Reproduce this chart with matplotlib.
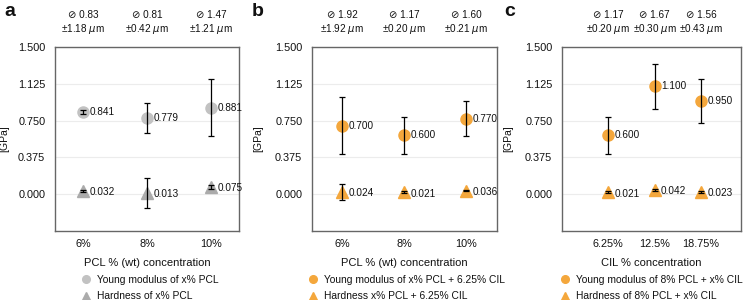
import matplotlib
matplotlib.use("Agg")
import matplotlib.pyplot as plt
from matplotlib.lines import Line2D
from matplotlib.transforms import blended_transform_factory

plt.rcParams['font.family'] = ['Liberation Sans', 'DejaVu Sans']

# ---------------- data ----------------
cats_a = ["6%", "8%", "10%"]
young_a = [0.841, 0.779, 0.881]
young_a_err = [0.02, 0.155, 0.29]
hard_a = [0.032, 0.013, 0.075]
hard_a_err = [0.008, 0.15, 0.02]
diam_a = ["0.83", "0.81", "1.47"]
diam_a_sd = ["±1.18", "±0.42", "±1.21"]

cats_b = ["6%", "8%", "10%"]
young_b = [0.700, 0.600, 0.770]
young_b_err = [0.29, 0.19, 0.175]
hard_b = [0.024, 0.021, 0.036]
hard_b_err = [0.08, 0.008, 0.008]
diam_b = ["1.92", "1.17", "1.60"]
diam_b_sd = ["±1.92", "±0.20", "±0.21"]

cats_c = ["6.25%", "12.5%", "18.75%"]
young_c = [0.600, 1.100, 0.950]
young_c_err = [0.19, 0.23, 0.22]
hard_c = [0.021, 0.042, 0.023]
hard_c_err = [0.008, 0.01, 0.01]
diam_c = ["1.17", "1.67", "1.56"]
diam_c_sd = ["±0.20", "±0.30", "±0.43"]

yticks = [0.0, 0.375, 0.75, 1.125, 1.5]
ytick_labels = ["0.000", "0.375", "0.750", "1.125", "1.500"]

GRAY_C = "#c2c2c2"
GRAY_T = "#ababab"
ORANGE = "#f4a73c"
TXT = "#111111"

W, H = 747, 300
fig = plt.figure(figsize=(W / 100, H / 100), dpi=100)

panels = [
    dict(letter="a", rect=(55, 47, 184, 184), xlim=(-0.4375, 2.4375), cats=cats_a,
         y=young_a, ye=young_a_err, h=hard_a, he=hard_a_err, d=diam_a, s=diam_a_sd,
         cc=GRAY_C, tc=GRAY_T, xlabel="PCL % (wt) concentration",
         leg=["Young modulus of x% PCL", "Hardness of x% PCL"], legx=88, letterx=4, ylx=9),
    dict(letter="b", rect=(312, 47, 185, 184), xlim=(-0.484, 2.5), cats=cats_b,
         y=young_b, ye=young_b_err, h=hard_b, he=hard_b_err, d=diam_b, s=diam_b_sd,
         cc=ORANGE, tc=ORANGE, xlabel="PCL % (wt) concentration",
         leg=["Young modulus of x% PCL + 6.25% CIL", "Hardness x% PCL + 6.25% CIL"], legx=315, letterx=252, ylx=263),
    dict(letter="c", rect=(562, 47, 179, 184), xlim=(-0.99, 2.86), cats=cats_c,
         y=young_c, ye=young_c_err, h=hard_c, he=hard_c_err, d=diam_c, s=diam_c_sd,
         cc=ORANGE, tc=ORANGE, xlabel="CIL % concentration",
         leg=["Young modulus of 8% PCL + x% CIL", "Hardness of 8% PCL + x% CIL"], legx=567, letterx=504, ylx=513),
]

for p in panels:
    l, t, w, h = p["rect"]
    ax = fig.add_axes([l / W, 1 - (t + h) / H, w / W, h / H])
    x = list(range(len(p["cats"])))
    ax.set_xlim(*p["xlim"])
    ax.set_ylim(-0.375, 1.5)
    ax.set_yticks(yticks)
    ax.set_yticklabels(ytick_labels)
    ax.set_xticks(x)
    ax.set_xticklabels(p["cats"])
    ax.tick_params(length=0, labelsize=7.8, colors=TXT)
    ax.tick_params(axis="y", pad=7)
    ax.tick_params(axis="x", pad=6)
    ax.grid(axis="y", color="#ececec", linewidth=0.8)
    ax.set_axisbelow(True)
    for sp in ax.spines.values():
        sp.set_color("#666666")
        sp.set_linewidth(1.0)

    ax.plot(x, p["y"], "o", color=p["cc"], markersize=8, zorder=2)
    ax.plot(x, p["h"], "^", color=p["tc"], markersize=8, zorder=2)
    ax.errorbar(x, p["y"], yerr=p["ye"], fmt="none", ecolor="black",
                elinewidth=0.9, capsize=2.3, capthick=0.9, zorder=3)
    ax.errorbar(x, p["h"], yerr=p["he"], fmt="none", ecolor="black",
                elinewidth=0.9, capsize=2.3, capthick=0.9, zorder=3)

    for xi, yi in zip(x, p["y"]):
        ax.annotate(f"{yi:.3f}", (xi, yi), xytext=(4.5, 0), textcoords="offset points",
                    ha="left", va="center", fontsize=7.2, color=TXT)
    for xi, yi in zip(x, p["h"]):
        ax.annotate(f"{yi:.3f}", (xi, yi), xytext=(4.5, -1), textcoords="offset points",
                    ha="left", va="center", fontsize=7.2, color=TXT)

    tr = blended_transform_factory(ax.transData, ax.transAxes)
    for xi, dv, sv in zip(x, p["d"], p["s"]):
        ax.text(xi, 1 + 32 / h, "\u2298 " + dv, transform=tr, ha="center", va="center",
                fontsize=7.2, color=TXT)
        ax.text(xi, 1 + 18 / h, sv + r" $\mu$m", transform=tr, ha="center", va="center",
                fontsize=7.2, color=TXT)

    ax.set_xlabel(p["xlabel"], fontsize=8, labelpad=6, color=TXT)
    ax.set_ylabel("[GPa]", fontsize=7.5, color=TXT)
    ax.yaxis.set_label_coords((p["ylx"] - l) / w, 0.5)

    handles = [Line2D([], [], marker="o", linestyle="none", color=p["cc"], markersize=5.5),
               Line2D([], [], marker="^", linestyle="none", color=p["tc"], markersize=5.5)]
    leg_x = (p["legx"] - 7 - l) / w
    leg_top = (t + h - 275) / h
    lg = ax.legend(handles, p["leg"], loc="upper left", bbox_to_anchor=(leg_x, leg_top),
                   frameon=False, fontsize=7.4, handlelength=1.0, handletextpad=0.6,
                   labelspacing=0.6, borderpad=0, borderaxespad=0)
    for txt in lg.get_texts():
        txt.set_color(TXT)

    fig.text(p["letterx"] / W, 1 - 3 / H, p["letter"], fontsize=14, fontweight="bold",
             ha="left", va="top", color=TXT)

fig.savefig("out.png", dpi=100)
